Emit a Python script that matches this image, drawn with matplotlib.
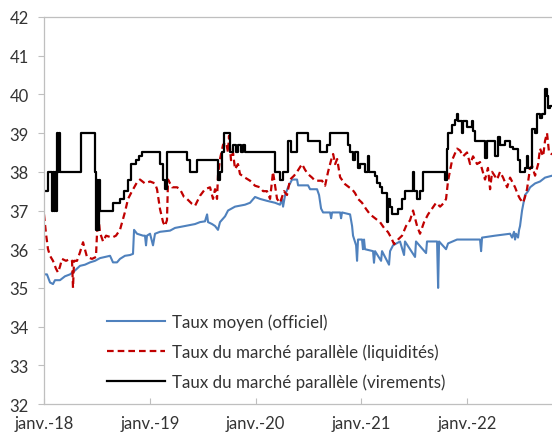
import numpy as np
import matplotlib.pyplot as plt

# x positions are years since janv. 2018
t_vir = [0.000, 0.038, 0.076, 0.085, 0.095, 0.104, 0.113, 0.123, 0.132, 0.142,
         0.151, 0.350, 0.482, 0.491, 0.501, 0.510, 0.520, 0.529, 0.652, 0.718,
         0.756, 0.794, 0.822, 0.869, 0.898, 0.926, 1.096, 1.125, 1.143, 1.162,
         1.351, 1.380, 1.446, 1.644, 1.663, 1.682, 1.701, 1.758, 1.786, 1.814,
         1.833, 1.862, 1.881, 1.899, 2.183, 2.230, 2.259, 2.306, 2.334, 2.391,
         2.495, 2.608, 2.674, 2.703, 2.873, 2.892, 2.920, 2.939, 2.967, 2.986,
         3.033, 3.062, 3.072, 3.128, 3.147, 3.175, 3.194, 3.241, 3.251, 3.270,
         3.289, 3.345, 3.383, 3.411, 3.487, 3.497, 3.525, 3.553, 3.582, 3.789,
         3.808, 3.818, 3.856, 3.884, 3.903, 3.912, 3.950, 3.960, 3.997, 4.045,
         4.054, 4.073, 4.167, 4.186, 4.262, 4.290, 4.309, 4.356, 4.404, 4.432,
         4.479, 4.498, 4.545, 4.564, 4.574, 4.612, 4.640, 4.659, 4.687, 4.706,
         4.734, 4.753, 4.763, 4.782, 4.801]
v_vir = [37.5, 38.0, 37.0, 38.0, 37.0, 38.0, 37.0, 39.0, 38.0, 39.0,
         38.0, 39.0, 38.0, 36.5, 37.8, 36.5, 37.8, 37.0, 37.2, 37.3,
         37.5, 37.8, 38.2, 38.3, 38.4, 38.5, 38.2, 37.8, 37.55, 38.5,
         38.3, 38.0, 38.3, 37.8, 38.0, 38.5, 39.0, 38.5, 38.7, 38.5,
         38.7, 38.5, 38.7, 38.5, 38.0, 37.8, 38.0, 38.8, 38.5, 39.0,
         38.8, 38.5, 38.7, 39.0, 38.7, 38.5, 38.3, 38.5, 38.1, 38.2,
         38.0, 38.4, 38.0, 37.9, 37.7, 37.6, 37.45, 36.7, 37.3, 37.1,
         36.9, 37.05, 37.3, 37.5, 38.0, 37.5, 37.3, 37.5, 38.0, 37.8,
         38.6, 39.0, 39.2, 39.35, 39.5, 39.3, 39.0, 39.3, 39.15, 39.3,
         39.05, 38.8, 38.35, 38.8, 38.4, 38.9, 38.7, 38.8, 38.65, 38.6,
         38.3, 38.0, 38.1, 38.4, 38.1, 39.1, 39.0, 39.5, 39.4, 39.5,
         40.15, 39.95, 39.65, 39.7, 39.7]

t_liq = [0.000, 0.019, 0.038, 0.057, 0.085, 0.113, 0.132, 0.151, 0.170, 0.208,
         0.246, 0.265, 0.274, 0.284, 0.312, 0.340, 0.369, 0.387, 0.406, 0.454,
         0.491, 0.510, 0.529, 0.558, 0.586, 0.643, 0.680, 0.718, 0.765, 0.794,
         0.832, 0.879, 0.907, 0.954, 1.002, 1.049, 1.068, 1.096, 1.125, 1.143,
         1.162, 1.172, 1.210, 1.257, 1.285, 1.323, 1.351, 1.399, 1.427, 1.474,
         1.521, 1.569, 1.597, 1.616, 1.635, 1.644, 1.663, 1.692, 1.720, 1.739,
         1.748, 1.767, 1.786, 1.805, 1.833, 1.852, 1.899, 1.947, 1.994, 2.041,
         2.070, 2.107, 2.136, 2.164, 2.202, 2.230, 2.268, 2.296, 2.325, 2.363,
         2.391, 2.438, 2.467, 2.495, 2.533, 2.561, 2.627, 2.656, 2.684, 2.713,
         2.732, 2.751, 2.770, 2.798, 2.845, 2.883, 2.911, 2.939, 2.967, 3.005,
         3.043, 3.081, 3.128, 3.175, 3.213, 3.251, 3.280, 3.308, 3.345, 3.383,
         3.421, 3.459, 3.487, 3.525, 3.553, 3.591, 3.629, 3.667, 3.705, 3.743,
         3.780, 3.799, 3.818, 3.856, 3.903, 3.931, 3.960, 3.997, 4.026, 4.054,
         4.092, 4.120, 4.167, 4.195, 4.215, 4.234, 4.281, 4.309, 4.338, 4.376,
         4.404, 4.451, 4.479, 4.498, 4.527, 4.545, 4.564, 4.593, 4.612, 4.640,
         4.669, 4.687, 4.716, 4.734, 4.753, 4.772, 4.801]
v_liq = [36.9, 36.4, 36.0, 35.83, 35.7, 35.5, 35.4, 35.55, 35.75, 35.7,
         35.75, 35.7, 35.0, 35.7, 35.7, 35.92, 36.18, 36.0, 35.8, 35.75,
         35.8, 36.96, 36.43, 36.2, 36.35, 36.3, 36.35, 36.5, 36.96, 37.3,
         37.5, 37.73, 37.8, 37.7, 37.75, 37.7, 37.55, 37.04, 36.7, 36.6,
         36.75, 37.8, 37.6, 37.6, 37.55, 37.35, 37.3, 37.17, 37.12, 37.38,
         37.55, 37.6, 37.3, 37.55, 37.3, 37.9, 38.33, 38.7, 38.76, 38.5,
         38.93, 38.3, 38.5, 38.07, 38.2, 37.94, 37.85, 37.77, 37.64, 37.6,
         37.5, 37.5, 37.3, 38.0, 37.3, 37.2, 37.5, 37.4, 37.8, 37.9,
         38.0, 38.2, 38.05, 37.94, 37.85, 37.77, 37.77, 37.64, 38.0, 38.3,
         38.46, 38.2, 38.33, 37.86, 37.68, 37.6, 37.55, 37.45, 37.3, 37.2,
         37.04, 36.9, 36.8, 36.7, 36.55, 36.44, 36.3, 36.13, 36.25, 36.35,
         36.6, 36.75, 37.0, 36.6, 36.4, 36.7, 36.9, 37.05, 37.2, 37.1,
         37.2, 37.3, 37.77, 38.3, 38.6, 38.55, 38.4, 38.5, 38.2, 38.4,
         38.2, 38.25, 37.8, 38.1, 37.55, 38.0, 37.8, 38.0, 37.85, 37.6,
         37.85, 37.6, 37.4, 37.3, 37.2, 37.35, 37.55, 38.1, 38.15, 37.9,
         38.2, 38.6, 38.4, 38.8, 39.0, 38.5, 38.45]

t_off = [0.000, 0.028, 0.057, 0.085, 0.104, 0.151, 0.198, 0.246, 0.293, 0.340,
         0.387, 0.435, 0.482, 0.529, 0.577, 0.624, 0.652, 0.690, 0.718, 0.765,
         0.813, 0.841, 0.851, 0.879, 0.936, 0.954, 0.964, 0.973, 1.002, 1.030,
         1.049, 1.096, 1.191, 1.238, 1.333, 1.427, 1.474, 1.521, 1.541, 1.550,
         1.588, 1.616, 1.644, 1.663, 1.711, 1.739, 1.805, 1.899, 1.947, 1.994,
         2.041, 2.107, 2.183, 2.230, 2.249, 2.259, 2.278, 2.306, 2.344, 2.391,
         2.401, 2.495, 2.514, 2.580, 2.599, 2.618, 2.637, 2.703, 2.713, 2.722,
         2.798, 2.807, 2.816, 2.892, 2.911, 2.920, 2.949, 2.958, 2.967, 3.005,
         3.014, 3.024, 3.033, 3.109, 3.118, 3.128, 3.185, 3.194, 3.260, 3.270,
         3.298, 3.364, 3.402, 3.411, 3.506, 3.515, 3.610, 3.619, 3.714, 3.724,
         3.733, 3.799, 3.818, 3.903, 4.120, 4.130, 4.139, 4.262, 4.404, 4.423,
         4.441, 4.451, 4.460, 4.479, 4.489, 4.498, 4.517, 4.545, 4.574, 4.593,
         4.640, 4.687, 4.734, 4.801]
v_off = [35.35, 35.35, 35.14, 35.1, 35.2, 35.2, 35.3, 35.35, 35.45, 35.57,
         35.6, 35.66, 35.7, 35.77, 35.8, 35.83, 35.66, 35.66, 35.75, 35.83,
         35.85, 35.88, 36.5, 36.4, 36.35, 36.35, 36.1, 36.35, 36.4, 36.1,
         36.4, 36.45, 36.48, 36.55, 36.6, 36.65, 36.7, 36.72, 36.9, 36.7,
         36.65, 36.6, 36.5, 36.7, 36.85, 37.0, 37.1, 37.15, 37.2, 37.35,
         37.3, 37.25, 37.2, 37.15, 37.3, 37.1, 37.4, 37.6, 37.8, 37.8,
         37.65, 37.65, 37.55, 37.55, 37.4, 37.05, 36.95, 36.95, 36.8, 36.95,
         36.95, 36.8, 36.95, 36.9, 36.6, 36.35, 36.1, 35.7, 36.25, 36.25,
         36.0, 36.25, 36.0, 35.95, 35.65, 35.95, 35.7, 35.95, 35.6, 35.95,
         36.1, 36.2, 35.85, 36.2, 35.8, 36.2, 35.9, 36.2, 36.2, 35.0,
         36.2, 36.0, 36.15, 36.25, 36.25, 35.95, 36.3, 36.35, 36.4, 36.3,
         36.45, 36.25, 36.4, 36.3, 36.5, 36.6, 37.0, 37.4, 37.5, 37.6,
         37.7, 37.75, 37.85, 37.9]

years = [2018, 2019, 2020, 2021, 2022]
year_labels = ['janv.-18', 'janv.-19', 'janv.-20', 'janv.-21', 'janv.-22']

plt.rcParams['font.family'] = ['Lato', 'DejaVu Sans']

fig = plt.figure(figsize=(5.52, 4.39), dpi=100)
ax = fig.add_axes([0.0797, 0.0774, 0.9203, 0.8816])

ax.plot(2018 + np.array(t_off), v_off, color='#4f81bd', lw=1.5,
        label='Taux moyen (officiel)')
ax.plot(2018 + np.array(t_liq), v_liq, color='#c00000', lw=1.6,
        linestyle=(0, (3, 1.8)), label='Taux du marché parallèle (liquidités)')
ax.plot(2018 + np.array(t_vir), v_vir, color='black', lw=1.6,
        drawstyle='steps-post', label='Taux du marché parallèle (virements)')

ax.set_xlim(2018, 2022.80)
ax.set_ylim(32, 42)
ax.set_xticks(years)
ax.set_xticklabels(year_labels)
ax.set_yticks(range(32, 43))

for s in ['left', 'bottom', 'top']:
    ax.spines[s].set_color('#bfbfbf')
    ax.spines[s].set_linewidth(0.9)
ax.spines['right'].set_visible(False)
ax.tick_params(axis='x', direction='in', length=4, color='#bfbfbf',
               labelsize=12, labelcolor='#333333', pad=8)
ax.tick_params(axis='y', direction='out', length=4, color='#bfbfbf',
               labelsize=12, labelcolor='#333333', pad=7)

ax.legend(loc='lower left', bbox_to_anchor=(0.124, 0.036), frameon=False,
          borderaxespad=0, borderpad=0,
          fontsize=12.2, handlelength=3.4, handletextpad=0.45, labelspacing=0.8,
          labelcolor='#333333')

fig.savefig('out.png', dpi=100)
